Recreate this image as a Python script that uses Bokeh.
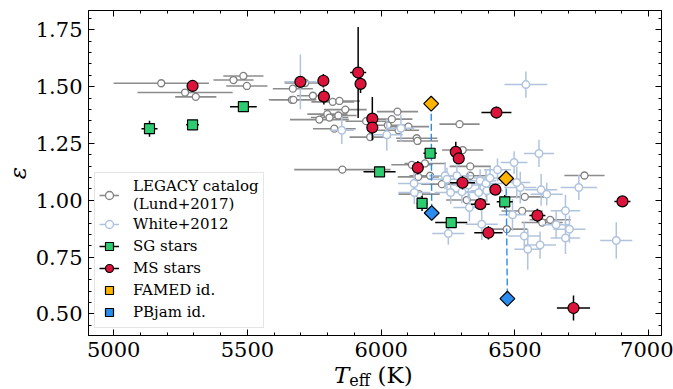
import numpy as np
from bokeh.plotting import figure
from bokeh.layouts import column
from bokeh.models import (LinearAxis, SingleIntervalTicker, Div,
                          PrintfTickFormatter, Legend, LegendItem, Range1d)
from bokeh.embed import file_html
from bokeh.resources import INLINE

# ---------------- data ----------------
legacy_teff = [5178, 5267, 5307, 5485, 5448, 5498, 5670, 5716, 5666, 5672, 5745, 5819, 5844, 5866,
               5769, 5799, 5807, 5840, 5825, 5944, 5959, 6025, 6061, 6040, 6065, 6102, 6293, 6133,
               6305, 6164, 6115, 6139, 6183, 6227, 5855, 6136, 6142, 6333, 6320, 6537, 6527, 6602,
               6632, 6470, 6760, 6333]
legacy_eps = [1.515, 1.474, 1.455, 1.547, 1.529, 1.503, 1.491, 1.516, 1.442, 1.442, 1.460, 1.433,
              1.437, 1.399, 1.355, 1.379, 1.364, 1.373, 1.315, 1.348, 1.278, 1.330, 1.390, 1.357,
              1.308, 1.324, 1.335, 1.273, 1.221, 1.162, 1.156, 1.103, 1.108, 1.071, 1.135, 1.261,
              1.027, 1.149, 1.001, 1.015, 0.953, 0.902, 0.914, 0.873, 1.109, 1.108]
legacy_teff_err = [178, 178, 77, 75, 75, 77, 75, 77, 86, 86, 60, 80, 77, 80, 110, 75, 70, 68, 80, 77,
                   77, 77, 77, 77, 77, 77, 75, 77, 77, 77, 77, 77, 77, 77, 180, 77, 77, 77, 77, 77,
                   77, 77, 77, 77, 75, 77]
legacy_eps_err = [0.012, 0.012, 0.010, 0.012, 0.011, 0.012, 0.013, 0.012, 0.012, 0.010, 0.012, 0.012,
                  0.011, 0.012, 0.013, 0.012, 0.012, 0.011, 0.012, 0.012, 0.012, 0.012, 0.011, 0.012,
                  0.012, 0.012, 0.012, 0.012, 0.012, 0.012, 0.012, 0.012, 0.012, 0.012, 0.012, 0.012,
                  0.012, 0.012, 0.012, 0.012, 0.012, 0.012, 0.012, 0.012, 0.012, 0.012]

white_teff = [5698, 5853, 6021, 6074, 6541, 6590, 6497, 6123, 6739, 6598, 6619, 6491, 6689, 6704,
              6689, 6535, 6594, 6548, 6879, 6376, 6251, 6330, 6654, 6520, 6507, 6435, 6239, 6260,
              6302, 6326, 6370, 6392, 6407, 6365, 6395, 6124, 6283, 6246]
white_eps = [1.521, 1.308, 1.288, 1.317, 1.509, 1.206, 1.166, 1.074, 1.056, 1.046, 1.027, 0.936,
             0.954, 0.873, 0.834, 0.843, 0.803, 0.784, 0.823, 0.895, 0.854, 0.968, 0.892, 1.056,
             1.078, 1.134, 1.108, 1.034, 1.037, 1.067, 1.086, 1.074, 1.098, 1.034, 1.042, 1.034,
             1.108, 1.093]
white_teff_err = [60, 45, 60, 50, 80, 56, 50, 60, 68, 60, 60, 50, 55, 60, 55, 60, 60, 50, 60, 60,
                  60, 60, 50, 60, 50, 50, 60, 60, 60, 60, 60, 60, 60, 60, 60, 60, 60, 60]
white_eps_err = [0.12, 0.06, 0.07, 0.06, 0.058, 0.06, 0.05, 0.05, 0.055, 0.07, 0.05, 0.07, 0.07,
                 0.06, 0.07, 0.06, 0.06, 0.09, 0.08, 0.07, 0.05, 0.06, 0.06, 0.07, 0.07, 0.05, 0.06,
                 0.05, 0.05, 0.06, 0.05, 0.06, 0.05, 0.05, 0.05, 0.05, 0.05, 0.05]

sg_teff = [5134, 5295, 5485, 5994, 6183, 6153, 6262, 6462]
sg_eps = [1.315, 1.332, 1.412, 1.125, 1.207, 0.986, 0.902, 0.993]
sg_teff_err = [30, 24, 50, 60, 25, 20, 60, 30]
sg_eps_err = [0.035, 0.01, 0.01, 0.01, 0.01, 0.033, 0.01, 0.03]

ms_teff = [5295, 5698, 5784, 5786, 5914, 5923, 5967, 5967, 6431, 6279, 6290, 6137, 6304, 6427,
           6371, 6401, 6584, 6902, 6719]
ms_eps = [1.503, 1.521, 1.526, 1.456, 1.562, 1.512, 1.359, 1.320, 1.386, 1.213, 1.184, 1.143,
          1.077, 1.047, 0.983, 0.857, 0.933, 0.995, 0.526]
ms_teff_err = [20, 20, 15, 15, 30, 15, 15, 15, 56, 15, 15, 20, 47, 20, 35, 53, 30, 30, 62]
ms_eps_err = [0.02, 0.02, 0.03, 0.035, 0.2, 0.04, 0.095, 0.03, 0.025, 0.045, 0.02, 0.03, 0.03,
              0.02, 0.02, 0.03, 0.03, 0.01, 0.055]

famed_teff = [6187, 6467]
famed_eps = [1.425, 1.096]
pbjam_teff = [6189, 6472]
pbjam_eps = [0.944, 0.567]

x_ticks_interval = 500
y_ticks_interval = 0.25

# ---------------- figure ----------------
p = figure(width=673, height=366, output_backend="svg", toolbar_location=None,
           x_range=Range1d(4906, 7048), y_range=Range1d(0.405, 1.835),
           min_border_left=88, min_border_right=12, min_border_top=10, min_border_bottom=31,
           x_axis_location=None, y_axis_location=None)
p.xgrid.visible = False
p.ygrid.visible = False
p.outline_line_color = "black"
p.outline_line_width = 1
p.background_fill_color = "white"
p.border_fill_color = "white"

FONT = "DejaVu Serif"
xt = SingleIntervalTicker(interval=x_ticks_interval, num_minor_ticks=5)
yt = SingleIntervalTicker(interval=y_ticks_interval, num_minor_ticks=5)


def make_axis(ticker, show_labels, fmt=None):
    ax = LinearAxis(ticker=ticker)
    if fmt is not None:
        ax.formatter = fmt
    ax.major_tick_in = 6
    ax.major_tick_out = 0
    ax.minor_tick_in = 3
    ax.minor_tick_out = 0
    ax.axis_line_color = "black"
    ax.major_tick_line_color = "black"
    ax.minor_tick_line_color = "black"
    if show_labels:
        ax.major_label_text_font = FONT
        ax.major_label_text_font_size = "21px"
        ax.major_label_text_color = "black"
        ax.major_label_standoff = 6
    else:
        ax.major_label_text_font_size = "1px"
        ax.major_label_text_color = None
        ax.major_label_standoff = 0
    return ax


xaxis = make_axis(xt, True)
yaxis = make_axis(yt, True, PrintfTickFormatter(format="%.2f"))
yaxis.axis_label = "ε"
yaxis.axis_label_text_font = FONT
yaxis.axis_label_text_font_style = "italic"
yaxis.axis_label_text_font_size = "23px"
yaxis.axis_label_text_color = "black"
yaxis.axis_label_standoff = 2
p.add_layout(xaxis, "below")
p.add_layout(yaxis, "left")
p.add_layout(make_axis(xt, False), "above")
p.add_layout(make_axis(yt, False), "right")


def errbars(t, e, te, ee, color, width):
    t = np.array(t, dtype=float)
    e = np.array(e, dtype=float)
    te = np.array(te, dtype=float)
    ee = np.array(ee, dtype=float)
    h = p.segment(x0=t - te, y0=e, x1=t + te, y1=e, line_color=color, line_width=width)
    v = p.segment(x0=t, y0=e - ee, x1=t, y1=e + ee, line_color=color, line_width=width)
    return h, v


GRAY = "#8c8c8c"
LSB = "#b0c4de"

# LEGACY
lh, lv = errbars(legacy_teff, legacy_eps, legacy_teff_err, legacy_eps_err, GRAY, 1.6)
lp = p.scatter(legacy_teff, legacy_eps, marker="circle", size=7, fill_color="white",
               line_color="#808080", line_width=1.3)

# White+2012
wh, wv = errbars(white_teff, white_eps, white_teff_err, white_eps_err, LSB, 1.5)
wp = p.scatter(white_teff, white_eps, marker="circle", size=7.5, fill_color="white",
               line_color=LSB, line_width=1.5)

# dashed connectors FAMED -> PBjam
p.segment(x0=famed_teff, y0=famed_eps, x1=pbjam_teff, y1=pbjam_eps,
          line_color="#2b8cf0", line_width=1.4, line_dash="7 3")

# SG
sh, sv = errbars(sg_teff, sg_eps, sg_teff_err, sg_eps_err, "black", 1.5)
sp = p.scatter(sg_teff, sg_eps, marker="square", size=10, fill_color="#2ecc71",
               line_color="black", line_width=1.2)

# MS
mh, mv = errbars(ms_teff, ms_eps, ms_teff_err, ms_eps_err, "black", 1.5)
mp = p.scatter(ms_teff, ms_eps, marker="circle", size=11, fill_color="#dc143c",
               line_color="black", line_width=1.2)

# FAMED / PBjam
fp = p.scatter(famed_teff, famed_eps, marker="square", angle=np.pi / 4, size=10.5,
               fill_color="#ffb400", line_color="black", line_width=1.2)
bp = p.scatter(pbjam_teff, pbjam_eps, marker="square", angle=np.pi / 4, size=10.5,
               fill_color="#2b8cf0", line_color="black", line_width=1.2)

legend = Legend(items=[
    LegendItem(label="LEGACY catalog\n(Lund+2017)", renderers=[lh, lp]),
    LegendItem(label="White+2012", renderers=[wh, wp]),
    LegendItem(label="SG stars", renderers=[sh, sp]),
    LegendItem(label="MS stars", renderers=[mh, mp]),
    LegendItem(label="FAMED id.", renderers=[fp]),
    LegendItem(label="PBjam id.", renderers=[bp]),
], location=(6, 7))
legend.label_text_font = FONT
legend.label_text_font_size = "15px"
legend.label_text_color = "black"
legend.glyph_width = 20
legend.glyph_height = 22
legend.label_height = 18
legend.spacing = 0
legend.padding = 4
legend.margin = 0
legend.label_standoff = 14
legend.border_line_color = "#cccccc"
legend.border_line_width = 1
legend.background_fill_color = "white"
legend.background_fill_alpha = 0.85
p.add_layout(legend, "center")

# x-axis title: italic T with subscript "eff", then "(K)"
xlabel_html = (
    '<div style="font-family:\'DejaVu Serif\';font-size:23px;line-height:19px;'
    'padding-left:334px;color:black;white-space:nowrap;">'
    '<span style="font-style:italic;">T</span>'
    '<span style="font-size:16px;position:relative;top:3px;">eff</span>'
    '&nbsp;(K)</div>'
)
xlabel = Div(text=xlabel_html, width=673, height=23, margin=(0, 0, 0, 0))

layout = column(p, xlabel, spacing=0)

open("out.html", "w").write(file_html(layout, INLINE))
